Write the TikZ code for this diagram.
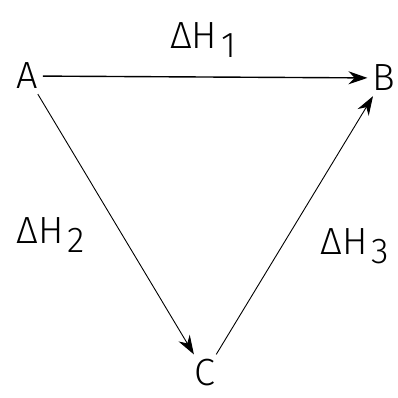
\documentclass[tikz,border=0pt]{standalone}
\usepackage{fontspec}
\setmainfont{Fira Sans}[UprightFont={* Light}]
\usetikzlibrary{arrows.meta}
\newcommand{\enth}[1]{ΔH\raisebox{-0.25em}{\kern0.1em\fontsize{36}{36}\selectfont #1}}
\tikzset{vtx/.style={
    rectangle,
    inner sep=5bp,
    font=\fontsize{38}{38}\selectfont
  },
  lbl/.style={font=\fontsize{38}{38}\selectfont},
  rxn/.style={-{Stealth[length=19bp,width=13bp]}},
}

\begin{document}
\begin{tikzpicture}[x=1bp,y=-1bp]
  \useasboundingbox (0,0) rectangle (398,398);
  \node [vtx] (A) at (27,76) {A};
  \node [vtx] (B) at (384,78) {B};
  \node [vtx] (C) at (205,373) {C};
  \draw[rxn,line width=1.4bp] (A) -- (B);
  \draw[rxn,line width=0.9bp] (A) -- (C);
  \draw[rxn,line width=0.9bp] (C) -- (B);
  \node [lbl] (h1) at (203,40) {\enth{1}};
  \node [lbl] (h2) at (51,235) {\enth{2}};
  \node [lbl] (h3) at (355,246) {\enth{3}};
\end{tikzpicture}
\end{document}
